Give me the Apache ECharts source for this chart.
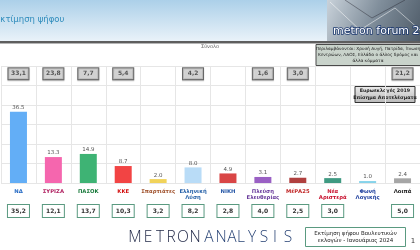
<!DOCTYPE html>
<html><head><meta charset="utf-8">
<script src="https://cdn.jsdelivr.net/npm/echarts@6/dist/echarts.min.js"></script>
<style>html,body{margin:0;padding:0;background:#fff}#c{width:420px;height:250px}</style>
</head><body><div id="c"></div>
<script>
const parties = ['ΝΔ','ΣΥΡΙΖΑ','ΠΑΣΟΚ','ΚΚΕ','Σπαρτιάτες','Ελληνική\nΛύση','ΝΙΚΗ','Πλεύση\nΕλευθερίας','ΜέΡΑ25','Νέα\nΑριστερά','Φωνή\nΛογικής','Λοιπά'];
const estimate = [36.5,13.3,14.9,8.7,2.0,8.0,4.9,3.1,2.7,2.5,1.0,2.4];
const euro2019 = [33.1,23.8,7.7,5.4,null,4.2,null,1.6,3.0,null,null,21.2];
const previous = [35.2,12.1,13.7,10.3,3.2,8.2,2.8,4.0,2.5,3.0,null,5.0];
const barColors = ['#63aef6','#f566ae','#3eb374','#f24444','#f1d35a','#b9dcf7','#d94646','#9a60c4','#b0403f','#3f9a82','#86d3ea','#a6a6a6'];
const labelColors = ['#1f66c2','#b02060','#1a7a3c','#d41414','#a0522d','#2a64aa','#2556a6','#6a3c9c','#c02424','#c8102e','#2444a0','#222'];
const footLetters = ['M','E','T','R','O','N','A','N','A','L','Y','S','I','S'];
const footX = [135,148,160,171,183,195,209,221,232,241,252,264,275,288];

const fmt = v => v == null ? '' : v.toFixed(1).replace('.', ',');

const chart = echarts.init(document.getElementById('c'), null, {renderer:'canvas'});
const graphics = [
  {type:'rect', shape:{x:0,y:0,width:420,height:41}, z:-1, style:{fill:new echarts.graphic.LinearGradient(0,0,0,1,[{offset:0,color:'#acd0e9'},{offset:1,color:'#e9f2f9'}])}},
  {type:'rect', shape:{x:327,y:0,width:93,height:41}, style:{fill:new echarts.graphic.LinearGradient(0,0,1,1,[{offset:0,color:'#c9d2da'},{offset:0.5,color:'#7f8d9a'},{offset:1,color:'#4e5b68'}])}},
  {type:'polyline', shape:{points:[[330,2],[360,30],[395,8],[420,30]]}, style:{stroke:'rgba(255,255,255,0.5)',lineWidth:1,fill:null}},
  {type:'polyline', shape:{points:[[345,0],[372,18],[405,0]]}, style:{stroke:'rgba(40,40,50,0.45)',lineWidth:1,fill:null}},
  {type:'text', x:333, y:26, style:{text:'metron forum 2', fontSize:11, fontFamily:'DejaVu Sans', fill:'#ffffff', stroke:'#1f3b70', lineWidth:1.6}},
  {type:'text', x:-5, y:15, style:{text:'Εκτίμηση ψήφου', fontSize:8.5, fontFamily:'DejaVu Sans', fill:'#2f8cbc'}},
  {type:'rect', shape:{x:0,y:41,width:420,height:2}, style:{fill:'#5e5e5e'}},
  {type:'rect', shape:{x:0,y:43,width:420,height:1}, style:{fill:'#b5b5b5'}},
  {type:'text', x:210, y:47, style:{text:'Σύνολο', fontSize:5, fontFamily:'DejaVu Sans', fill:'#666', align:'center', verticalAlign:'middle'}},
  {type:'rect', shape:{x:316,y:44.5,width:106,height:21}, style:{fill:'#c9d3cb', stroke:'#4a4a4a', lineWidth:1}},
  {type:'text', x:368, y:55, style:{text:'Περιλαμβάνονται: Χρυσή Αυγή, Πατρίδα, Ένωση\nΚεντρώων, ΛΑΟΣ, Ελλάδα ο άλλος δρόμος και\nάλλα κόμματα', fontSize:4.3, lineHeight:6, fontFamily:'DejaVu Sans', fill:'#222', align:'center', verticalAlign:'middle'}},
  {type:'rect', shape:{x:355,y:86.5,width:60,height:16}, style:{fill:new echarts.graphic.LinearGradient(0,0,0,1,[{offset:0,color:'#ececec'},{offset:1,color:'#b9b9b9'}]), stroke:'#333', lineWidth:1}},
  {type:'text', x:385, y:94.5, style:{text:'Ευρωεκλογές 2019\nΕπίσημα Αποτελέσματα', fontSize:4.8, lineHeight:6.5, fontWeight:'bold', fontFamily:'DejaVu Sans', fill:'#222', align:'center', verticalAlign:'middle'}},
  {type:'rect', shape:{x:305.5,y:227.5,width:100,height:19}, style:{fill:'#fff', stroke:'#5a9a80', lineWidth:1}},
  {type:'text', x:355.5, y:237, style:{text:'Εκτίμηση ψήφου Βουλευτικών\nεκλογών - Ιανουάριος 2024', fontSize:5.5, lineHeight:7, fontFamily:'DejaVu Sans', fill:'#222', align:'center', verticalAlign:'middle'}},
  {type:'text', x:413, y:241, style:{text:'1', fontSize:7, fontFamily:'DejaVu Sans', fill:'#333', align:'center', verticalAlign:'middle'}}
];
footLetters.forEach((ch,i)=>{
  graphics.push({type:'text', x:footX[i], y:237.5, style:{text:ch, fontSize:15.5, fontWeight:300, fontFamily:'Open Sans', fill: i<6 ? '#1d2544' : '#2b4677', align:'center', verticalAlign:'middle'}});
});

chart.setOption({
  animation:false,
  backgroundColor:'#ffffff',
  graphic: graphics,
  grid:{left:1, width:424, top:66, bottom:67, containLabel:false},
  xAxis:[
    {type:'category', data:parties, gridIndex:0,
     axisLine:{show:false}, axisTick:{show:false},
     splitLine:{show:true, interval:0, lineStyle:{color:'#e6e6e6', width:1}},
     axisLabel:{interval:0, margin:5, fontSize:5.3, lineHeight:6.5, fontWeight:'bold', fontFamily:'DejaVu Sans',
       color:(v,i)=>labelColors[i]}},
    {type:'category', data:parties, gridIndex:0, position:'bottom', offset:20,
     axisLine:{show:false}, axisTick:{show:false}, splitLine:{show:false},
     axisLabel:{interval:0, margin:4,
       formatter:(v,i)=> previous[i]==null ? '' : '{b|'+fmt(previous[i])+'}',
       rich:{b:{fontSize:6, fontWeight:'bold', fontFamily:'DejaVu Sans', color:'#333', backgroundColor:'#fff',
         borderColor:'#5a9a80', borderWidth:1, width:15, height:8, lineHeight:8, align:'center', padding:[2,3]}}}}
  ],
  yAxis:{type:'value', min:0, max:60, interval:10,
    axisLine:{show:false}, axisTick:{show:false}, axisLabel:{show:false},
    splitLine:{lineStyle:{color:'#e6e6e6', width:1}}},
  series:[
    {type:'bar', data:estimate.map((v,i)=>({value:v, itemStyle:{color:barColors[i]}})), barWidth:17,
     label:{show:true, position:'top', distance:1, fontSize:5.5, fontFamily:'DejaVu Sans', color:'#555',
       formatter:p=>p.value.toFixed(1)}},
    {type:'scatter', data:euro2019.map((v,i)=>[i, v==null?null:56]), symbolSize:0, clip:false, silent:true,
     label:{show:true, position:'inside',
       formatter:p=> fmt(euro2019[p.dataIndex]),
       fontSize:6, fontWeight:'bold', fontFamily:'DejaVu Sans', color:'#333',
       backgroundColor:'#d2d2d2', borderColor:'#4a4a4a', borderWidth:1,
       width:14, height:7, lineHeight:7, align:'center', padding:[2,3],
       shadowColor:'rgba(0,0,0,0.25)', shadowBlur:1, shadowOffsetY:1}}
  ]
});
</script></body></html>
